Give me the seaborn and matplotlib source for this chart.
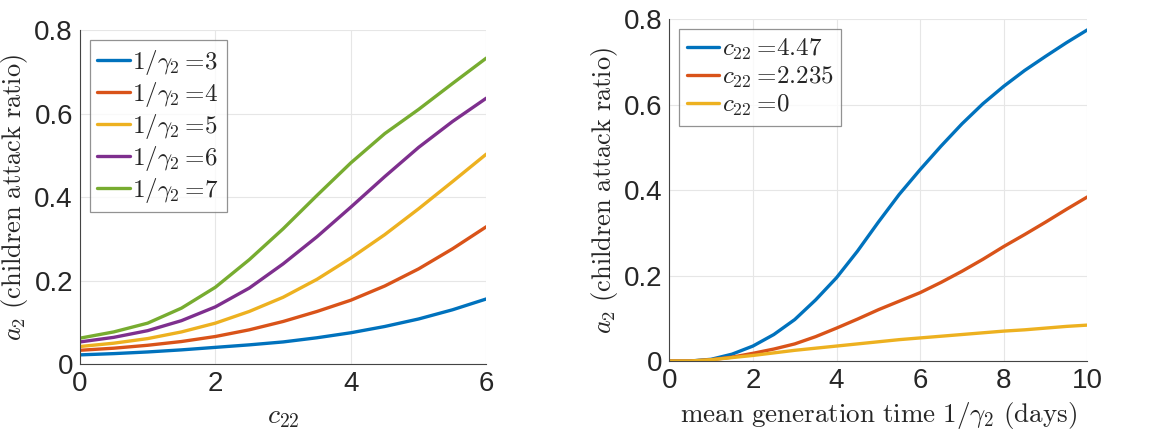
import pandas as pd
import matplotlib
matplotlib.use('Agg')
import matplotlib.pyplot as plt
import seaborn as sns

# %% data
c22 = [0, 0.5, 1, 1.5, 2, 2.5, 3, 3.5, 4, 4.5, 5, 5.5, 6]
gen_times = [3, 4, 5, 6, 7]
a2_gen3 = [0.022, 0.025, 0.029, 0.034, 0.040, 0.046, 0.053, 0.063, 0.075, 0.090, 0.108, 0.130, 0.156]
a2_gen4 = [0.033, 0.038, 0.045, 0.054, 0.066, 0.082, 0.102, 0.126, 0.153, 0.187, 0.228, 0.276, 0.329]
a2_gen5 = [0.042, 0.050, 0.061, 0.077, 0.098, 0.126, 0.160, 0.203, 0.254, 0.310, 0.372, 0.437, 0.503]
a2_gen6 = [0.053, 0.064, 0.080, 0.104, 0.137, 0.182, 0.240, 0.305, 0.376, 0.449, 0.519, 0.581, 0.637]
a2_gen7 = [0.062, 0.077, 0.098, 0.134, 0.184, 0.250, 0.324, 0.404, 0.482, 0.552, 0.610, 0.672, 0.733]

gen_time = [0, 0.5, 1, 1.5, 2, 2.5, 3, 3.5, 4, 4.5, 5, 5.5, 6, 6.5, 7, 7.5, 8, 8.5, 9, 9.5, 10]
c22_values = ['4.47', '2.235', '0']
a2_c447 = [0, 0, 0.004, 0.016, 0.035, 0.062, 0.097, 0.143, 0.195, 0.257, 0.325, 0.390, 0.448,
           0.503, 0.555, 0.602, 0.643, 0.680, 0.713, 0.745, 0.775]
a2_c2235 = [0, 0, 0.003, 0.009, 0.018, 0.028, 0.040, 0.057, 0.077, 0.098, 0.120, 0.140, 0.160,
            0.184, 0.210, 0.238, 0.268, 0.296, 0.325, 0.355, 0.384]
a2_c0 = [0, 0, 0.003, 0.008, 0.013, 0.019, 0.025, 0.030, 0.035, 0.040, 0.045, 0.050, 0.054,
         0.058, 0.062, 0.066, 0.070, 0.073, 0.077, 0.081, 0.084]

matlab_colors = ['#0072BD', '#D95319', '#EDB120', '#7E2F8E', '#77AC30']

# %%
sns.set_style('white')
plt.rcParams['font.family'] = ['Liberation Sans', 'DejaVu Sans']
plt.rcParams['mathtext.fontset'] = 'cm'

fig = plt.figure(figsize=(11.58, 4.36), dpi=100)
ax1 = fig.add_axes([0.069, 0.165, 0.351, 0.766])
ax2 = fig.add_axes([0.578, 0.172, 0.361, 0.784])

df_left = pd.DataFrame({
    'c22': c22 * 5,
    'a2': a2_gen3 + a2_gen4 + a2_gen5 + a2_gen6 + a2_gen7,
    'gen': sum([[r'$1/\gamma_2 =\!%d$' % g] * len(c22) for g in gen_times], []),
})
sns.lineplot(data=df_left, x='c22', y='a2', hue='gen', palette=matlab_colors,
             linewidth=2.4, ax=ax1)

df_right = pd.DataFrame({
    'gt': gen_time * 3,
    'a2': a2_c447 + a2_c2235 + a2_c0,
    'c22': sum([[r'$c_{22} =\!%s$' % c] * len(gen_time) for c in c22_values], []),
})
sns.lineplot(data=df_right, x='gt', y='a2', hue='c22', palette=matlab_colors[:3],
             linewidth=2.4, ax=ax2)

# %% styling
for ax, xmax in [(ax1, 6), (ax2, 10)]:
    ax.set_xlim(0, xmax)
    ax.set_ylim(0, 0.8)
    ax.set_yticks([0, 0.2, 0.4, 0.6, 0.8])
    ax.set_yticklabels(['0', '0.2', '0.4', '0.6', '0.8'])
    ax.grid(True, color='#e6e6e6', linewidth=0.8)
    ax.tick_params(labelsize=20, direction='in', length=4, color='#444444', pad=5)
    for side in ['top', 'right']:
        ax.spines[side].set_visible(False)
    for side in ['left', 'bottom']:
        ax.spines[side].set_color('#444444')
        ax.spines[side].set_linewidth(0.8)
    ax.set_ylabel(r'$a_2\ \mathrm{(children\ attack\ ratio)}$', fontsize=19, labelpad=3)
    leg = ax.legend(loc='upper left', fontsize=18, frameon=True, fancybox=False,
                    handlelength=1.3, handletextpad=0.1, borderpad=0.3, labelspacing=0.12,
                    borderaxespad=0.4)
    leg.get_frame().set_edgecolor('#777777')
    leg.get_frame().set_linewidth(0.9)
    for line in leg.get_lines():
        line.set_linewidth(2.4)

ax1.set_xticks([0, 2, 4, 6])
ax1.set_xlabel(r'$c_{22}$', fontsize=20, labelpad=5)
ax2.set_xticks([0, 2, 4, 6, 8, 10])
ax2.set_xlabel(r'$\mathrm{mean\ generation\ time\ }1/\gamma_2\mathrm{\ (days)}$', fontsize=19.5, labelpad=4)

fig.savefig('out.png', dpi=100)
